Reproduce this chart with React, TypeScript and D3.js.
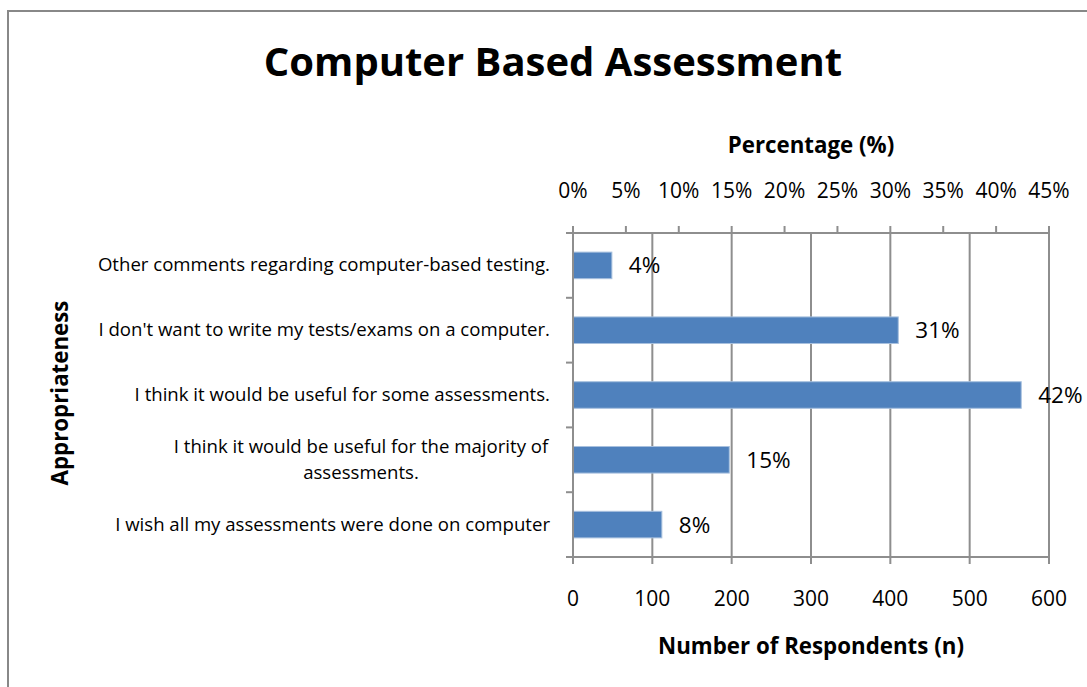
import React from "react";
import * as d3 from "d3";

const categories = [
  "Other comments regarding computer-based testing.",
  "I don't want to write my tests/exams on a computer.",
  "I think it would be useful for some assessments.",
  "I think it would be useful for the majority of assessments.",
  "I wish all my assessments were done on computer",
];
const categoryLines = [
  ["Other comments regarding computer-based testing."],
  ["I don't want to write my tests/exams on a computer."],
  ["I think it would be useful for some assessments."],
  ["I think it would be useful for the majority of", "assessments."],
  ["I wish all my assessments were done on computer"],
];
const respondents = [49, 410, 565, 197, 112];
const percentLabels = ["4%", "31%", "42%", "15%", "8%"];
const countTicks = [0, 100, 200, 300, 400, 500, 600];
const percentTicks = [0, 5, 10, 15, 20, 25, 30, 35, 40, 45];

const W = 1087;
const H = 687;
const plot = { left: 573, right: 1049, top: 233, bottom: 557 };
const FONT = "'Open Sans', Lato, sans-serif";
const GRID = "#8e8e8e";

export default function App() {
  const x = d3.scaleLinear().domain([0, 600]).range([plot.left, plot.right]);
  const xp = d3.scaleLinear().domain([0, 45]).range([plot.left, plot.right]);
  const y = d3
    .scaleBand<string>()
    .domain(categories)
    .range([plot.top, plot.bottom])
    .paddingInner(0.59)
    .paddingOuter(0.295);
  const band = (plot.bottom - plot.top) / categories.length;
  const catTickYs = d3.range(categories.length + 1).map((i) => plot.top + i * band);

  return (
    <svg
      width={W}
      height={H}
      style={{ position: "absolute", left: 0, top: 0, background: "#fff" }}
      fontFamily={FONT}
    >
      <rect x={8} y={11} width={W + 10} height={H + 10} fill="#fff" stroke="#888" strokeWidth={2} />
      <text x={553} y={76} textAnchor="middle" fontSize={40} fontWeight="bold" fill="#000">
        Computer Based Assessment
      </text>
      <text x={811} y={153} textAnchor="middle" fontSize={22.3} fontWeight="bold">
        Percentage (%)
      </text>
      <text x={811} y={654} textAnchor="middle" fontSize={22.3} fontWeight="bold">
        Number of Respondents (n)
      </text>
      <text
        transform={`translate(68,${393}) rotate(-90)`}
        textAnchor="middle"
        fontSize={22.3}
        fontWeight="bold"
      >
        Appropriateness
      </text>

      {/* vertical grid lines */}
      {countTicks.map((t) => (
        <line key={"g" + t} x1={x(t)} x2={x(t)} y1={plot.top} y2={plot.bottom + 7} stroke={GRID} strokeWidth={2} />
      ))}
      {/* top axis */}
      <line x1={plot.left} x2={plot.right} y1={plot.top} y2={plot.top} stroke={GRID} strokeWidth={2} />
      {percentTicks.map((t) => (
        <g key={"p" + t}>
          <line x1={xp(t)} x2={xp(t)} y1={plot.top - 7} y2={plot.top} stroke={GRID} strokeWidth={2} />
          <text x={xp(t)} y={198} textAnchor="middle" fontSize={21}>
            {t}%
          </text>
        </g>
      ))}
      {/* bottom axis */}
      <line x1={plot.left - 7} x2={plot.right} y1={plot.bottom} y2={plot.bottom} stroke={GRID} strokeWidth={2} />
      {countTicks.map((t) => (
        <text key={"c" + t} x={x(t)} y={606} textAnchor="middle" fontSize={21}>
          {t}
        </text>
      ))}
      {/* left axis */}
      {catTickYs.map((v, i) => (
        <line key={"l" + i} x1={plot.left - 7} x2={plot.left} y1={v} y2={v} stroke={GRID} strokeWidth={2} />
      ))}

      {/* bars */}
      {categories.map((c, i) => (
        <g key={c}>
          <rect
            x={x(0)}
            y={y(c)}
            width={x(respondents[i]) - x(0)}
            height={y.bandwidth()}
            fill="#4F81BD"
            stroke="#A7C0DE"
            strokeWidth={1}
          />
          <text
            x={x(respondents[i]) + 17}
            y={(y(c) as number) + y.bandwidth() / 2 + 8}
            fontSize={22.5}
          >
            {percentLabels[i]}
          </text>
        </g>
      ))}
      <line x1={plot.left} x2={plot.left} y1={plot.top} y2={plot.bottom + 7} stroke={GRID} strokeWidth={2} />

      {/* category labels */}
      {categories.map((c, i) => {
        const lines = categoryLines[i];
        const cy = (y(c) as number) + y.bandwidth() / 2;
        const lh = 26;
        const start = cy - ((lines.length - 1) * lh) / 2;
        if (lines.length === 1) {
          return (
            <text key={"t" + i} x={550} y={start + 6} textAnchor="end" fontSize={18.6}>
              {lines[0]}
            </text>
          );
        }
        return (
          <g key={"t" + i}>
            {lines.map((ln, j) => (
              <text key={j} x={361} y={start + j * lh + 6} textAnchor="middle" fontSize={18.6}>
                {ln}
              </text>
            ))}
          </g>
        );
      })}
    </svg>
  );
}
